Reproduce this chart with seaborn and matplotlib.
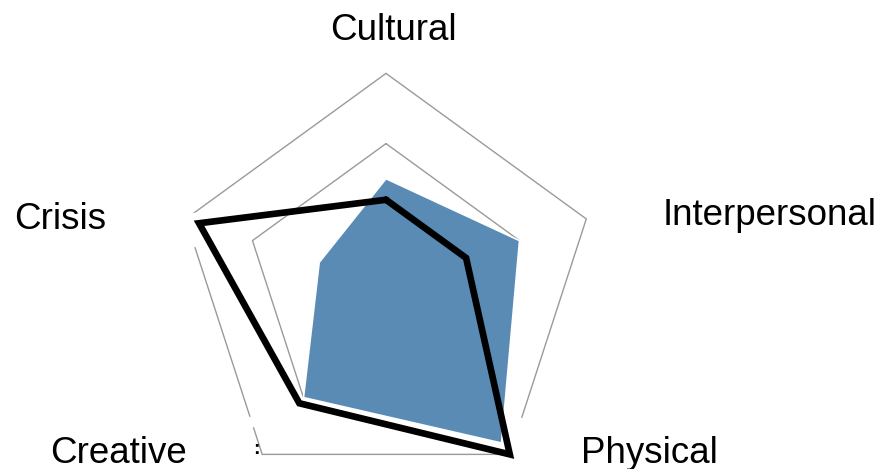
import numpy as np
import matplotlib.pyplot as plt
import seaborn as sns
from matplotlib.patches import Rectangle

# data (rings at 1, 2, 3)
categories = ['Cultural', 'Interpersonal', 'Physical', 'Creative', 'Crisis']
filled_values = [1.5, 2.0, 2.8, 2.0, 1.0]
line_values = [1.2, 1.2, 3.0, 2.1, 2.8]
grid_levels = [1, 2, 3]
r_max = 3

sns.set_theme(style='white')
plt.rcParams['font.family'] = ['Liberation Sans', 'DejaVu Sans']

W, H = 883, 469
fig = plt.figure(figsize=(W / 100, H / 100), dpi=100)

# polar axes placed so that the radar centre / radius match the picture
cx, cy, R = 386, 284, 210.6
ax = fig.add_axes([(cx - R) / W, (H - cy - R) / H, 2 * R / W, 2 * R / H],
                  projection='polar')
ax.set_theta_zero_location('N')
ax.set_theta_direction(-1)
ax.set_ylim(0, r_max)

theta = np.linspace(0, 2 * np.pi, len(categories), endpoint=False)
theta_c = np.append(theta, 2 * np.pi)


def close(v):
    return np.append(v, v[0])


# pentagon gridlines
for lev in grid_levels:
    ax.plot(theta_c, [lev] * len(theta_c), color='#9a9a9a', lw=1.0,
            zorder=1, clip_on=False)

# small breaks in the outer ring seen in the reference (pixel boxes)
def gap(x0, y0, x1, y1):
    ax.add_patch(Rectangle((x0 / W, (H - y1) / H), (x1 - x0) / W, (y1 - y0) / H,
                           transform=fig.transFigure, color='white',
                           zorder=1.5, clip_on=False))


gap(178, 213, 201, 246)
gap(244, 417, 262, 426)
gap(504, 418, 532, 462)

# filled series
ax.fill(theta_c, close(filled_values), facecolor='#5A8BB5', edgecolor='white',
        lw=1.2, zorder=2, clip_on=False)

# black line series
sns.lineplot(x=theta_c, y=close(line_values), sort=False, errorbar=None,
             color='black', lw=4.8, solid_joinstyle='miter', zorder=3,
             clip_on=False, ax=ax)

ax.set_xticks([])
ax.set_yticks([])
ax.grid(False)
ax.spines['polar'].set_visible(False)
ax.set_xlabel('')
ax.set_ylabel('')
ax.set_facecolor('none')

# category labels (centre x, baseline y in pixels)
label_pos = [(393, 40), (770, 225), (649, 463), (118, 463), (60, 229)]
for name, (px, py) in zip(categories, label_pos):
    fig.text(px / W, (H - py) / H, name, ha='center', va='baseline',
             fontsize=26.5, color='black')

# stray colon next to "Creative"
fig.text(256 / W, (H - 454) / H, ':', ha='center', va='baseline',
         fontsize=14, fontweight='bold', color='black')

fig.savefig('out.png', dpi=100)
